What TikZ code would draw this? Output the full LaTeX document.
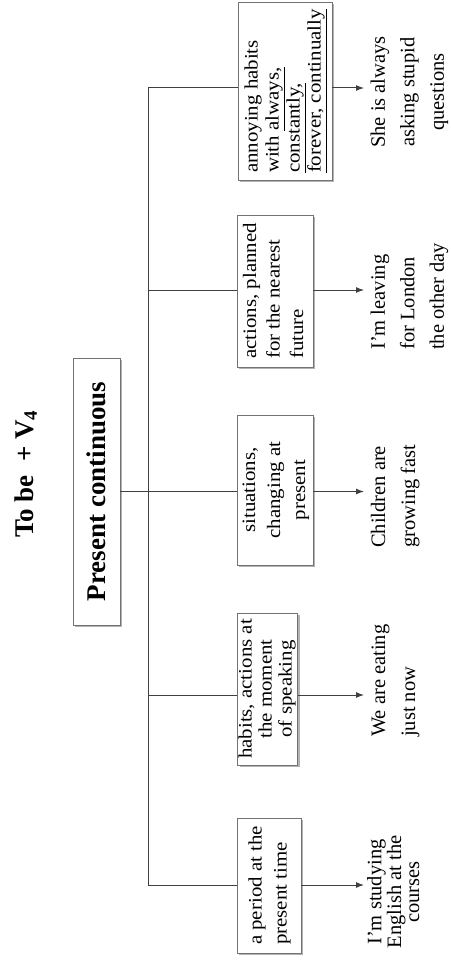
\documentclass[tikz,border=0pt]{standalone}
\usepackage{fontspec}
\setmainfont{Liberation Serif}
\usetikzlibrary{positioning,arrows.meta,shadows}

% a block of lines turned to read from bottom to top
\newcommand{\sidetext}[3][1]{\rotatebox{90}{\scalebox{#1}[1]{\begin{tabular}{@{}#2@{}}#3\end{tabular}}}}

\begin{document}
\begin{tikzpicture}[x=1pt, y=-1pt,
  usecase/.style={draw=black!55, fill=white, inner sep=0pt,
                  drop shadow={shadow xshift=2pt, shadow yshift=-2pt,
                               fill=black!30, opacity=1},
                  font=\fontsize{19}{#1}\selectfont},
  usecase/.default=22,
  tense/.style={usecase, font=\fontsize{27}{30}\selectfont\bfseries},
  sample/.style={inner sep=0pt, font=\fontsize{20.5}{#1}\selectfont},
  sample/.default=29.5,
  link/.style={draw=black!75, line width=1pt},
  arr/.style={link, -{Latex[length=8pt,width=6pt]}},
]
\useasboundingbox (0,0) rectangle (450,960);

% Title
\node[rotate=90, anchor=base, font=\fontsize{27}{30}\selectfont\bfseries]
  (title) at (33, 474) {To be\ \ + V\textsubscript{4}};

% Tense box
\node[tense, minimum width=47pt, minimum height=267pt] (tense) at (96.5, 491.5)
  {\rotatebox{90}{Present continuous}};

% Trunk points, one per use
\coordinate (jA) at (148, 88);
\coordinate (jB) at (148, 290);
\coordinate (jC) at (148, 491.5);
\coordinate (jD) at (148, 695);
\coordinate (jE) at (148, 885);

% Uses of the tense
\node[usecase=21, minimum width=94pt, minimum height=178pt] (annoy) at (285, 91)
  {\sidetext[1.1]{l}{annoying habits\\ with \underline{always,}\\
   \underline{constantly,}\\ \underline{forever, continually}}};
\node[usecase=23.5, minimum width=76pt, minimum height=152pt] (planned) at (275, 291)
  {\sidetext[1.1]{l}{actions, planned\\ for the nearest\\ future}};
\node[usecase=25, minimum width=76pt, minimum height=150pt] (changing) at (275, 490)
  {\sidetext[1.1]{c}{situations,\\ changing at\\ present}};
\node[usecase=20, minimum width=59pt, minimum height=152pt] (moment) at (267.5, 689)
  {\sidetext[1.1]{c}{habits, actions at\\ the moment\\ of speaking}};
\node[usecase=25, minimum width=64pt, minimum height=135pt] (period) at (269, 885.5)
  {\sidetext[1.1]{l}{a period at the\\ present time}};

% Examples
\node[sample, anchor=west] (exA) at (364, 92)
  {\sidetext{c}{She is always\\ asking stupid\\ questions}};
\node[sample, anchor=south west] (exB) at (364, 350)
  {\sidetext{l}{I'm leaving\\ for London\\ the other day}};
\node[sample=30, anchor=south west] (exC) at (364, 548)
  {\sidetext{l}{Children are\\ growing fast}};
\node[sample=30, anchor=south west] (exD) at (364, 737)
  {\sidetext{l}{We are eating\\ just now}};
\node[sample=18, anchor=west] (exE) at (367, 892)
  {\sidetext{c}{I'm studying\\ English at the\\ courses}};

% Trunk
\draw[link] (tense.east) -- (jC);
\draw[link] (jA) -- (jE);

% Branches to the uses
\draw[link] (jA) -- (annoy.west |- jA);
\draw[link] (jB) -- (planned.west |- jB);
\draw[link] (jC) -- (changing.west |- jC);
\draw[link] (jD) -- (moment.west |- jD);
\draw[link] (jE) -- (period.west |- jE);

% Arrows to the examples
\draw[arr] (annoy.east |- jA) -- (exA.west |- jA);
\draw[arr] (planned.east |- jB) -- (exB.west |- jB);
\draw[arr] (changing.east |- jC) -- (exC.west |- jC);
\draw[arr] (moment.east |- jD) -- (exD.west |- jD);
\draw[arr, shorten >=3pt] (period.east |- jE) -- (exE.west |- jE);

\end{tikzpicture}
\end{document}
